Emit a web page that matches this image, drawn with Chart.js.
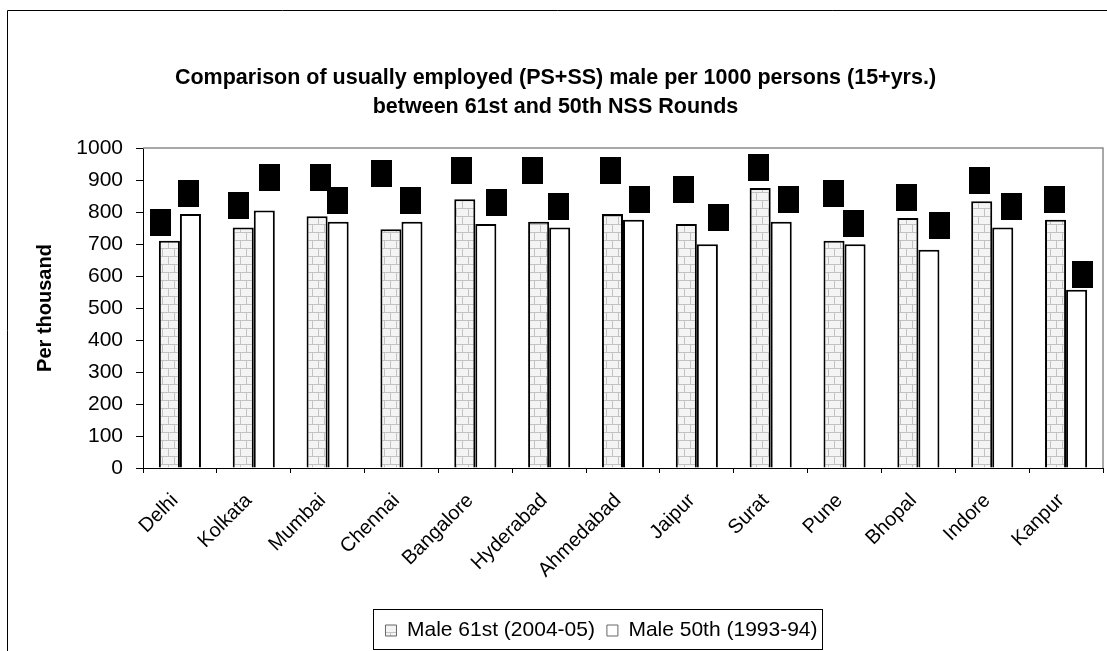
<!DOCTYPE html>
<html lang="en">
<head>
<meta charset="UTF-8">
<title>Usually employed males per 1000 persons</title>
<script src="https://cdn.jsdelivr.net/npm/chart.js"></script>
<style>
  html, body { margin: 0; padding: 0; background: #fff; }
  #empChart { display: block; }
</style>
</head>
<body>
<canvas id="empChart" width="1107" height="651"></canvas>
<script>
const cities = ['Delhi', 'Kolkata', 'Mumbai', 'Chennai', 'Bangalore', 'Hyderabad', 'Ahmedabad',
                'Jaipur', 'Surat', 'Pune', 'Bhopal', 'Indore', 'Kanpur'];
const male61st = [710, 752, 787, 746, 840, 770, 794, 763, 875, 710, 781, 834, 776];
const male50th = [794, 805, 770, 770, 763, 752, 776, 699, 770, 699, 682, 752, 557];
const seriesNames = ['Male 61st (2004-05)', 'Male 50th (1993-94)'];
const yMax = 1000;
const yStep = 100;

// the value labels in the original were moved by hand: [dx, lift] in px from the bar top
const labelNudge61 = [[-9, 5], [-5, 8], [3, 25], [-9, 42], [-3, 15], [-6, 38], [-2, 30],
                      [-3, 21], [-2, 7], [-1, 34], [-1, 7], [-2, 7], [-1, 7]];
const labelNudge50 = [[-2, 7], [5, 19], [-1, 8], [-1, 8], [11, 8], [-1, 7], [6, 7],
                      [11, 13], [7, 9], [-2, 7], [11, 11], [9, 7], [6, 2]];

Chart.defaults.font.family = "'Liberation Sans', Arial, sans-serif";
Chart.defaults.color = '#000';

// grey brick fill like the excel pattern
function brickPattern(ctx) {
    const c = document.createElement('canvas');
    c.width = 12; c.height = 16;
    const g = c.getContext('2d');
    g.fillStyle = '#f4f4f4';
    g.fillRect(0, 0, 12, 16);
    g.fillStyle = '#c2c2c2';
    g.fillRect(0, 0, 12, 1);
    g.fillRect(0, 8, 12, 1);
    g.fillRect(0, 0, 1, 8);
    g.fillRect(6, 8, 1, 8);
    return ctx.createPattern(c, 'repeat');
}

const frame = {
    id: 'frame',
    beforeDraw(chart) {
        const ctx = chart.ctx;
        ctx.save();
        ctx.fillStyle = '#fff';
        ctx.fillRect(0, 0, chart.width, chart.height);
        ctx.strokeStyle = '#000';
        ctx.lineWidth = 1;
        ctx.beginPath();
        ctx.moveTo(7.5, chart.height);
        ctx.lineTo(7.5, 10.5);
        ctx.lineTo(chart.width, 10.5);
        ctx.stroke();
        ctx.restore();
    },
    beforeDatasetsDraw(chart) {
        const {ctx, chartArea: a} = chart;
        ctx.save();
        ctx.strokeStyle = '#8c8c8c';
        ctx.lineWidth = 1.5;
        ctx.beginPath();
        ctx.moveTo(a.left, a.top);
        ctx.lineTo(a.right, a.top);
        ctx.lineTo(a.right, a.bottom);
        ctx.stroke();
        ctx.restore();
    }
};

const valueBoxes = {
    id: 'valueBoxes',
    afterDatasetsDraw(chart) {
        const ctx = chart.ctx;
        const nudges = [labelNudge61, labelNudge50];
        ctx.save();
        ctx.font = "18px 'Liberation Sans', Arial, sans-serif";
        ctx.textAlign = 'center';
        ctx.textBaseline = 'middle';
        chart.data.datasets.forEach((ds, i) => {
            chart.getDatasetMeta(i).data.forEach((bar, j) => {
                const cx = bar.x + nudges[i][j][0];
                const bottom = bar.y - nudges[i][j][1];
                ctx.fillStyle = '#000';
                ctx.fillRect(Math.round(cx - 10.5), Math.round(bottom - 27), 21, 27);
                ctx.fillText(String(ds.data[j]), cx, bottom - 13.5, 19);
            });
        });
        ctx.restore();
    }
};

const legendBox = {
    id: 'legendBox',
    afterLayout(chart) {
        // the legend sits a bit right of centre in the original
        chart.legend.left += 46;
        chart.legend.right += 46;
    },
    afterDraw(chart) {
        const boxes = chart.legend.legendHitBoxes;
        if (!boxes || !boxes.length) return;
        const first = boxes[0];
        const last = boxes[boxes.length - 1];
        const ctx = chart.ctx;
        ctx.save();
        ctx.strokeStyle = '#000';
        ctx.lineWidth = 1;
        const l = Math.round(first.left - 12) + 0.5;
        const r = Math.round(last.left + last.width + 4) + 0.5;
        const t = Math.round(first.top - 11) + 0.5;
        const b = chart.height - 1.5;
        ctx.strokeRect(l, t, r - l, b - t);
        ctx.restore();
    }
};

const ctx = document.getElementById('empChart').getContext('2d');
const bricks = brickPattern(ctx);

new Chart(ctx, {
    type: 'bar',
    data: {
        labels: cities,
        datasets: [{
            label: seriesNames[0],
            data: male61st,
            backgroundColor: bricks,
            borderColor: '#000',
            borderWidth: 2,
            categoryPercentage: 0.57,
            barPercentage: 1.0
        }, {
            label: seriesNames[1],
            data: male50th,
            backgroundColor: '#fff',
            borderColor: '#000',
            borderWidth: 2,
            categoryPercentage: 0.57,
            barPercentage: 1.0
        }]
    },
    options: {
        responsive: false,
        animation: false,
        layout: {
            padding: { top: 12, left: 8, right: 4, bottom: 0 }
        },
        scales: {
            x: {
                grid: { offset: true, drawOnChartArea: false, tickLength: 5, color: '#000' },
                border: { color: '#000', width: 1 },
                ticks: {
                    font: { size: 20 }, color: '#000',
                    maxRotation: 45, minRotation: 45,
                    padding: 16, labelOffset: -5, autoSkip: false
                },
                afterFit(scale) {
                    scale.height = scale.chart.height - 468 - scale.chart.legend.height;
                }
            },
            y: {
                min: 0,
                max: yMax,
                grid: { drawOnChartArea: false, tickLength: 7, color: '#000' },
                border: { color: '#000', width: 1 },
                ticks: { stepSize: yStep, font: { size: 21 }, color: '#000', padding: 13, callback: v => String(v) },
                title: {
                    display: true,
                    text: 'Per thousand',
                    font: { size: 20, weight: 'bold' },
                    color: '#000',
                    padding: { top: 25, bottom: 0 }
                },
                afterFit(scale) {
                    scale.width = 135;
                }
            }
        },
        plugins: {
            title: {
                display: true,
                text: ['Comparison of usually employed (PS+SS) male per 1000 persons (15+yrs.)',
                       'between 61st and 50th NSS Rounds'],
                font: { size: 21.5, weight: 'bold', lineHeight: 1.35 },
                color: '#000',
                padding: { top: 52, bottom: 26 }
            },
            legend: {
                position: 'bottom',
                labels: {
                    boxWidth: 11,
                    boxHeight: 11,
                    padding: 12,
                    font: { size: 21 },
                    color: '#000',
                    generateLabels(chart) {
                        const items = Chart.defaults.plugins.legend.labels.generateLabels(chart);
                        items.forEach(it => { it.strokeStyle = '#666'; it.lineWidth = 1; });
                        return items;
                    }
                }
            },
            tooltip: { enabled: false }
        }
    },
    plugins: [frame, valueBoxes, legendBox]
});
</script>
</body>
</html>
